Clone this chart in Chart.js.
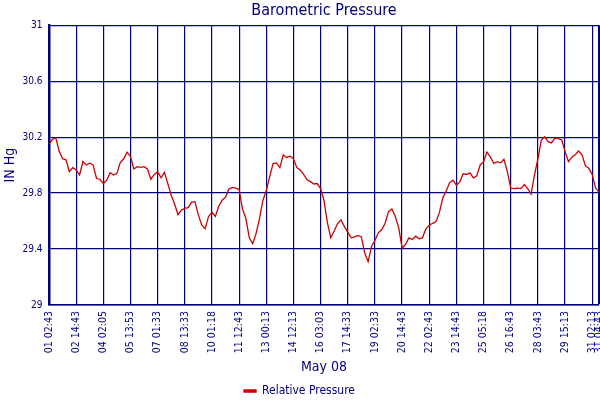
<!DOCTYPE html>
<html>
<head>
<meta charset="utf-8">
<script src="https://cdn.jsdelivr.net/npm/chart.js@4/dist/chart.umd.min.js"></script>
<style>
  html, body { margin: 0; padding: 0; background: #ffffff; }
  #wrap { width: 600px; height: 400px; }
</style>
</head>
<body>
<div id="wrap"><canvas id="c" width="600" height="400"></canvas></div>
<script>
// Tick labels on the time axis and the sample index each one marks
const tickLabels = ["01 02:43","02 14:43","04 02:05","05 13:53","07 01:33","08 13:33","10 01:18",
  "11 12:43","13 00:13","14 12:13","16 03:03","17 14:33","19 02:33","20 14:43","22 02:43",
  "23 14:43","25 05:18","26 16:43","28 03:43","29 15:13","31 02:13","31 04:43"];
const tickIndex = [0,8,16,24,32,40,48,56,64,72,80,88,96,104,112,120,128,136,144,152,160,162];

// Relative pressure (IN Hg)
const pressure = [
  30.152,30.183,30.195,30.098,30.045,30.038,29.953,29.982,
  29.965,29.929,30.025,30.001,30.013,30.001,29.904,29.899,
  29.868,29.892,29.945,29.929,29.941,30.018,30.045,30.093,
  30.062,29.972,29.989,29.984,29.989,29.972,29.899,29.933,
  29.953,29.909,29.948,29.868,29.783,29.722,29.645,29.679,
  29.691,29.696,29.735,29.739,29.642,29.570,29.545,29.633,
  29.662,29.633,29.706,29.749,29.771,29.829,29.841,29.836,
  29.824,29.686,29.618,29.480,29.439,29.512,29.618,29.747,
  29.819,29.916,30.011,30.016,29.982,30.074,30.055,30.064,
  30.045,29.982,29.965,29.933,29.895,29.882,29.865,29.868,
  29.832,29.747,29.589,29.480,29.529,29.582,29.609,29.560,
  29.521,29.480,29.487,29.497,29.487,29.371,29.310,29.419,
  29.461,29.516,29.538,29.584,29.667,29.686,29.633,29.553,
  29.407,29.432,29.480,29.468,29.492,29.473,29.480,29.545,
  29.570,29.584,29.596,29.662,29.766,29.815,29.875,29.892,
  29.856,29.880,29.938,29.933,29.945,29.909,29.924,30.001,
  30.025,30.093,30.059,30.013,30.025,30.016,30.042,29.953,
  29.836,29.832,29.836,29.832,29.861,29.832,29.793,29.929,
  30.045,30.178,30.202,30.168,30.159,30.193,30.190,30.181,
  30.098,30.025,30.057,30.074,30.101,30.074,29.994,29.977,
  29.933,29.836,29.807
];

const yMin = 29, yMax = 31, yStep = 0.4;
const NAVY = '#000080';
const RED = '#cc0000';
const FONT = "'DejaVu Sans Condensed', 'Liberation Sans', sans-serif";

const labelAt = {};
tickIndex.forEach((v, i) => { labelAt[v] = tickLabels[i]; });
const lastIdx = pressure.length - 1;

new Chart(document.getElementById('c'), {
  type: 'line',
  data: {
    labels: pressure.map((_, i) => i),
    datasets: [{
      label: 'Relative Pressure',
      data: pressure.map((v, i) => ({ x: i, y: v })),
      borderColor: RED,
      backgroundColor: RED,
      borderWidth: 1.3,
      pointRadius: 0,
      tension: 0,
      fill: false
    }]
  },
  options: {
    responsive: false,
    animation: false,
    devicePixelRatio: 1,
    layout: { padding: { left: 0, right: 1, top: 0, bottom: -7 } },
    plugins: {
      title: {
        display: true,
        text: 'Barometric Pressure',
        color: NAVY,
        fullSize: false,
        font: { family: FONT, size: 16, weight: 'normal' },
        padding: { top: 1, bottom: 5 }
      },
      legend: {
        display: true,
        position: 'bottom',
        labels: {
          color: NAVY,
          font: { family: FONT, size: 12 },
          boxWidth: 12,
          boxHeight: 2,
          padding: 4
        }
      },
      tooltip: { enabled: false }
    },
    scales: {
      x: {
        type: 'linear',
        min: 0,
        max: lastIdx,
        offset: false,
        afterBuildTicks: (scale) => { scale.ticks = tickIndex.map(v => ({ value: v })); },
        afterFit: (scale) => { scale.height = 76; scale.paddingLeft = 0; scale.paddingRight = 0; },
        ticks: {
          autoSkip: false,
          maxRotation: 90,
          minRotation: 90,
          padding: 6,
          color: NAVY,
          font: { family: FONT, size: 10.5 },
          callback: (v) => labelAt[v]
        },
        grid: {
          color: NAVY,
          lineWidth: (ctx) => (ctx.tick && ctx.tick.value === lastIdx) ? 3 : 1.2,
          drawTicks: false
        },
        border: { display: true, color: NAVY, width: 1.5 },
        title: {
          display: true,
          text: 'May 08',
          color: NAVY,
          font: { family: FONT, size: 14 },
          padding: { top: 2, bottom: 5.6 }
        }
      },
      y: {
        min: yMin,
        max: yMax,
        afterFit: (scale) => { scale.width = 49; },
        ticks: {
          stepSize: yStep,
          padding: 6.5,
          color: NAVY,
          font: { family: FONT, size: 10 },
          callback: (v) => String(Number(v.toFixed(1)))
        },
        grid: { color: NAVY, lineWidth: 1.2, drawTicks: false },
        border: { display: true, color: NAVY, width: 2.5 },
        title: {
          display: true,
          text: 'IN Hg',
          color: NAVY,
          font: { family: FONT, size: 14 },
          padding: { top: 1.5, bottom: 0 }
        }
      }
    }
  }
});
</script>
</body>
</html>
